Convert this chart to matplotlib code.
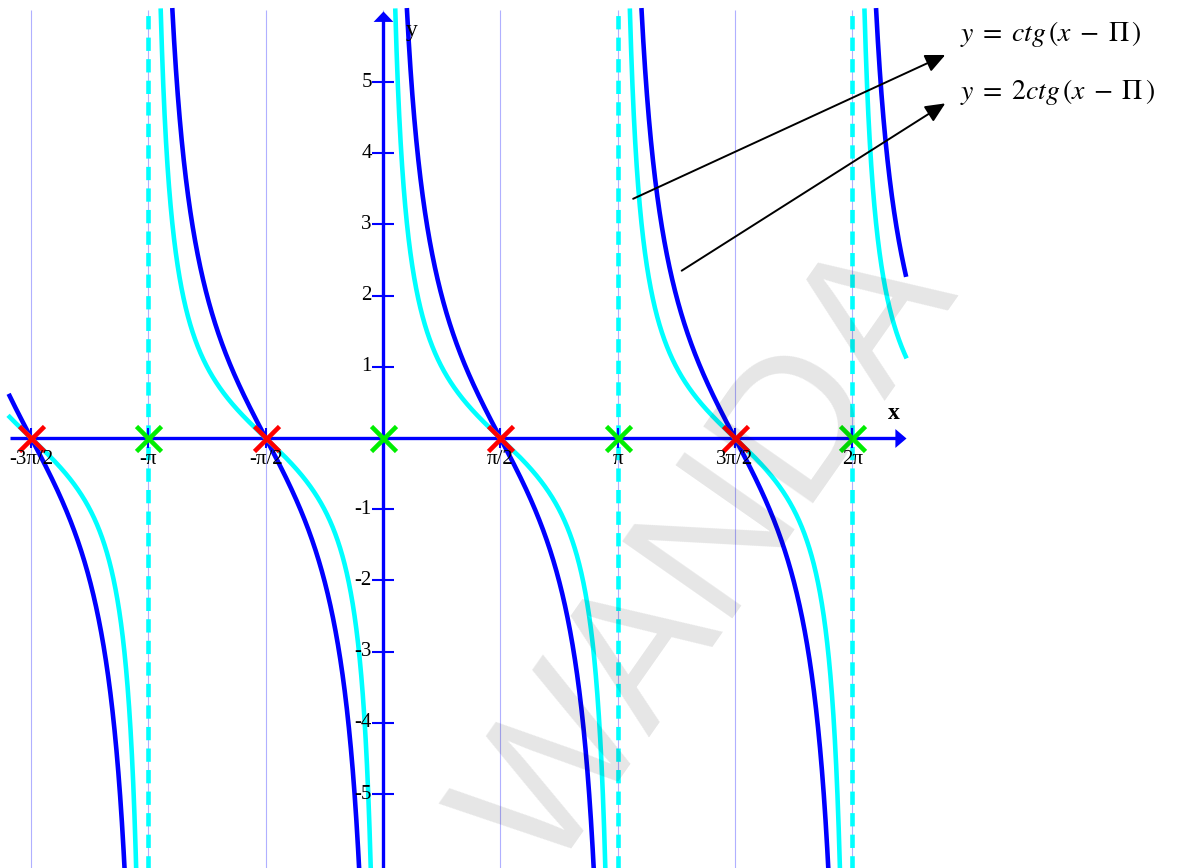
import numpy as np
import matplotlib
matplotlib.use("Agg")
import matplotlib.pyplot as plt

plt.rcParams['mathtext.fontset'] = 'stix'

# ---------------- data ----------------
x_domain = [-5.0, 7.0]            # plotted x range
y_view = [-6.0, 6.0]              # plotted y range
coefs = [2, 1]                    # y = k * ctg(x - pi)
curve_colors = ['#0000ff', '#00ffff']
eq_labels = [r'$y\;=\;ctg\,(x\;-\;\Pi\,)$', r'$y\;=\;2ctg\,(x\;-\;\Pi\,)$']

zeros_x = [-3*np.pi/2, -np.pi/2, np.pi/2, 3*np.pi/2]          # red crosses
asym_x = [-np.pi, 0.0, np.pi, 2*np.pi]                        # green crosses
dashed_x = [-np.pi, np.pi, 2*np.pi]                           # dashed asymptotes
grid_x = [-3*np.pi/2, -np.pi, -np.pi/2, 0.0, np.pi/2, np.pi, 3*np.pi/2, 2*np.pi]

xtick_vals = [-3*np.pi/2, -np.pi, -np.pi/2, np.pi/2, np.pi, 3*np.pi/2, 2*np.pi]
xtick_labels = ['-3π/2', '-π', '-π/2', 'π/2', 'π', '3π/2', '2π']
ytick_vals = [-5, -4, -3, -2, -1, 1, 2, 3, 4, 5]
ytick_labels = ['-5', '-4', '-3', '-2', '-1', '1', '2', '3', '4', '5']

# ---------------- figure ----------------
fig = plt.figure(figsize=(11.81, 8.68), dpi=100)
ax = fig.add_axes([0, 0, 1, 1])
ax.set_xlim(-5.129, 10.687)
ax.set_ylim(-6.039, 6.152)
ax.axis('off')

serif = 'Liberation Serif'
ytop = y_view[1] + 0.01

# grid lines
ax.vlines(grid_x, -6.5, ytop, colors='#b0b0ff', linewidth=0.8, zorder=1)
# dashed asymptotes
for xv in dashed_x:
    ax.plot([xv, xv], [-6.5, ytop], color='#00ffff', lw=3.3,
            dashes=(2.9, 1.8), solid_capstyle='butt', zorder=2)

# axes lines
ax.plot([x_domain[0], x_domain[1] - 0.08], [0, 0], color='#0000ff', lw=2.4, zorder=3,
        solid_capstyle='butt')
ax.plot([0, 0], [-6.5, y_view[1] - 0.08], color='#0000ff', lw=2.4, zorder=3,
        solid_capstyle='butt')
ax.plot([x_domain[1]], [0], marker=[(0, 0), (-1, 0.85), (-1, -0.85)],
        ms=16, color='#0000ff', mew=0, zorder=3)
ax.plot([0], [y_view[1]], marker=[(0, 0), (0.95, -1), (-0.95, -1)],
        ms=15, color='#0000ff', mew=0, zorder=3)

# ticks
ax.plot([0]*len(ytick_vals), ytick_vals, ls='none', marker='_',
        ms=16, mew=1.5, color='#0000ff', zorder=3)
ax.plot(xtick_vals, [0]*len(xtick_vals), ls='none', marker='|',
        ms=14, mew=1.5, color='#0000ff', zorder=3)

for v, lab in zip(ytick_vals, ytick_labels):
    ax.text(-0.15, v, lab, ha='right', va='center', fontsize=15,
            family=serif, color='black', zorder=6)
for v, lab in zip(xtick_vals, xtick_labels):
    ax.text(v, -0.3, lab, ha='center', va='center', fontsize=15,
            family=serif, color='black', zorder=6)

ax.text(6.84, 0.34, 'x', ha='center', va='center', fontsize=17,
        family=serif, fontweight='bold', zorder=6)
ax.text(0.38, 5.72, 'y', ha='center', va='center', fontsize=17,
        family=serif, zorder=6)

# curves
xs = np.linspace(x_domain[0], x_domain[1], 40001)
for k, col in zip(coefs, curve_colors):
    ys = k * np.cos(xs - np.pi) / np.sin(xs - np.pi)
    ys = np.where((ys > ytop) | (ys < -6.4), np.nan, ys)
    ax.plot(xs, ys, color=col, lw=3.3, zorder=4)

# crosses
ax.plot(zeros_x, [0]*len(zeros_x), ls='none', marker='x', ms=18, mew=3.3,
        color='#ff0000', zorder=5)
ax.plot(asym_x, [0]*len(asym_x), ls='none', marker='x', ms=18, mew=3.3,
        color='#00ee00', zorder=5)

# annotations
eq_pos = [(7.73, 5.67), (7.73, 4.86)]
arrow_tips = [(7.53, 5.38), (7.53, 4.70)]
arrow_starts = [(3.35, 3.36), (4.0, 2.35)]
for lab, pos in zip(eq_labels, eq_pos):
    ax.text(pos[0], pos[1], lab, ha='left', va='center', fontsize=20, zorder=6)
for tip, st in zip(arrow_tips, arrow_starts):
    ax.annotate('', xy=tip, xytext=st,
                arrowprops=dict(arrowstyle='-|>,head_length=1.2,head_width=0.55',
                                mutation_scale=10, color='black', lw=1.4,
                                shrinkA=0, shrinkB=0), zorder=6)

# watermark
ax.text(712, 310, 'WANDA', transform=None, fontsize=140, family='Liberation Sans',
        rotation=55, ha='center', va='center', color='black', alpha=0.1, zorder=10)

fig.savefig('out.png', dpi=100)
